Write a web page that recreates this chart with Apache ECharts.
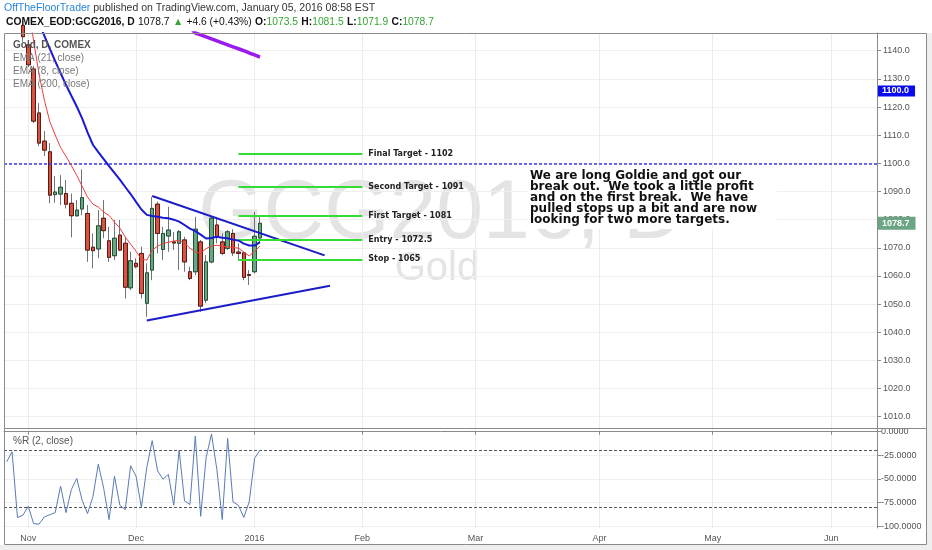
<!DOCTYPE html>
<html><head><meta charset="utf-8">
<script src="https://cdn.jsdelivr.net/npm/echarts@6/dist/echarts.min.js"></script>
<style>html,body{margin:0;padding:0;background:#fff}#c{width:932px;height:550px}</style>
</head><body><div id="c"></div>
<script>
// ---------- categories (trading days, then TradingView's projected weekdays) ----------
const dates = [
'2015-10-27','2015-10-28','2015-10-29','2015-10-30',
'2015-11-02','2015-11-03','2015-11-04','2015-11-05','2015-11-06',
'2015-11-09','2015-11-10','2015-11-11','2015-11-12','2015-11-13',
'2015-11-16','2015-11-17','2015-11-18','2015-11-19','2015-11-20',
'2015-11-23','2015-11-24','2015-11-25','2015-11-27','2015-11-30',
'2015-12-01','2015-12-02','2015-12-03','2015-12-04',
'2015-12-07','2015-12-08','2015-12-09','2015-12-10','2015-12-11',
'2015-12-14','2015-12-15','2015-12-16','2015-12-17','2015-12-18',
'2015-12-21','2015-12-22','2015-12-23','2015-12-24',
'2015-12-28','2015-12-29','2015-12-30','2015-12-31',
'2016-01-04','2016-01-05',
'2016-01-06','2016-01-07','2016-01-08',
'2016-01-11','2016-01-12','2016-01-13','2016-01-14','2016-01-15',
'2016-01-18','2016-01-19','2016-01-20','2016-01-21','2016-01-22',
'2016-01-25','2016-01-26','2016-01-27','2016-01-28','2016-01-29',
'2016-02-01','2016-02-02','2016-02-03','2016-02-04','2016-02-05',
'2016-02-08','2016-02-09','2016-02-10','2016-02-11','2016-02-12',
'2016-02-15','2016-02-16','2016-02-17','2016-02-18','2016-02-19',
'2016-02-22','2016-02-23','2016-02-24','2016-02-25','2016-02-26','2016-02-29',
'2016-03-01','2016-03-02','2016-03-03','2016-03-04',
'2016-03-07','2016-03-08','2016-03-09','2016-03-10','2016-03-11',
'2016-03-14','2016-03-15','2016-03-16','2016-03-17','2016-03-18',
'2016-03-21','2016-03-22','2016-03-23','2016-03-24','2016-03-25',
'2016-03-28','2016-03-29','2016-03-30','2016-03-31',
'2016-04-01',
'2016-04-04','2016-04-05','2016-04-06','2016-04-07','2016-04-08',
'2016-04-11','2016-04-12','2016-04-13','2016-04-14','2016-04-15',
'2016-04-18','2016-04-19','2016-04-20','2016-04-21','2016-04-22',
'2016-04-25','2016-04-26','2016-04-27','2016-04-28','2016-04-29',
'2016-05-02','2016-05-03','2016-05-04','2016-05-05','2016-05-06',
'2016-05-09','2016-05-10','2016-05-11','2016-05-12','2016-05-13',
'2016-05-16','2016-05-17','2016-05-18','2016-05-19','2016-05-20',
'2016-05-23','2016-05-24','2016-05-25','2016-05-26','2016-05-27',
'2016-05-30','2016-05-31',
'2016-06-01','2016-06-02','2016-06-03',
'2016-06-06','2016-06-07','2016-06-08','2016-06-09','2016-06-10','2016-06-13'
];

// ---------- price bars (first 48 categories) ----------
const opens  = [1164.0,1166.5,1157.0,1149.0,1142.1,1133.5,1117.9,1107.9,1104.1,1088.9,1089.1,1089.3,1085.8,1081.4,1083.8,1082.2,1070.2,1069.6,1080.5,1072.5,1067.2,1074.5,1071.6,1055.8,1064.5,1068.0,1050.3,1062.1,1085.5,1069.4,1074.2,1072.1,1071.6,1072.8,1061.5,1061.5,1072.1,1051.4,1065.0,1078.1,1072.1,1069.8,1075.1,1068.5,1068.2,1060.5,1061.5,1073.5];
const highs  = [1169.0,1180.0,1158.5,1150.5,1143.8,1134.6,1121.4,1111.5,1107.2,1095.5,1095.8,1094.1,1089.3,1087.0,1097.9,1085.2,1075.1,1083.4,1087.0,1077.5,1079.9,1079.9,1073.9,1068.6,1066.3,1070.4,1064.5,1088.1,1086.4,1077.5,1084.6,1075.6,1076.3,1073.9,1063.3,1081.0,1072.8,1067.4,1081.0,1081.0,1075.1,1076.3,1076.6,1071.6,1068.6,1062.1,1082.8,1081.5];
const lows   = [1160.0,1160.5,1147.2,1143.2,1134.2,1114.3,1106.1,1102.6,1085.8,1086.0,1085.2,1084.0,1073.7,1081.0,1081.6,1065.0,1062.7,1066.3,1073.4,1065.0,1065.6,1068.8,1052.0,1055.0,1062.7,1052.0,1045.5,1058.5,1068.0,1065.6,1068.6,1069.2,1062.1,1061.5,1058.5,1060.3,1047.3,1050.3,1064.5,1071.6,1067.4,1069.2,1067.1,1065.6,1058.5,1056.8,1060.9,1071.9];
const closes = [1166.5,1175.0,1149.0,1145.0,1135.0,1115.0,1107.2,1104.7,1088.7,1089.8,1091.5,1085.5,1081.4,1083.4,1087.8,1069.2,1069.0,1077.8,1076.1,1066.6,1073.4,1069.2,1056.0,1065.4,1063.3,1053.8,1061.1,1084.0,1075.1,1075.1,1076.3,1071.7,1075.7,1065.0,1059.1,1076.6,1049.3,1065.0,1080.5,1073.9,1068.0,1075.7,1068.2,1068.0,1059.5,1060.2,1074.1,1078.7];

// ---------- indicators ----------
const ema21  = [1180.0,1176.5,1171.0,1165.5,1158.8,1154.4,1149.8,1145.3,1140.7,1136.3,1132.1,1127.9,1124.0,1120.2,1116.0,1111.0,1106.6,1104.0,1101.5,1099.0,1096.6,1094.2,1091.6,1089.1,1086.3,1083.6,1081.7,1081.3,1081.0,1080.7,1080.5,1080.0,1079.3,1078.1,1076.8,1075.9,1074.7,1073.3,1073.5,1073.9,1073.6,1073.4,1072.9,1072.6,1071.5,1070.8,1070.8,1072.0];
const ema8   = [1170.0,1172.0,1168.0,1163.0,1156.0,1143.4,1131.7,1122.4,1114.8,1110.1,1105.6,1102.5,1099.2,1095.7,1091.9,1088.0,1085.5,1084.5,1082.7,1081.5,1079.1,1077.0,1073.8,1071.3,1068.8,1066.0,1065.6,1069.2,1070.6,1071.5,1072.0,1072.4,1072.6,1071.7,1069.9,1068.5,1068.1,1069.7,1070.6,1070.9,1070.6,1070.3,1070.1,1069.9,1068.5,1067.1,1068.8,1070.6];
const ema200 = [1171.1,1171.0,1170.6,1170.1,1169.5,1168.8,1168.1,1167.4,1166.7,1166.0,1165.3,1164.6,1163.9,1163.2,1162.5,1161.8,1161.1,1160.4,1159.7,1159.0,1158.3,1157.6,1156.9,1156.2,1155.5,1154.8,1154.1,1153.3,1152.6,1151.9,1151.2,1150.5,1149.8,1149.1,1148.4,1146.3,1145.6,1144.9,1144.2,1143.5,1142.8,1142.1,1141.4,1140.7,1140.0,1139.2,1138.5,1137.7];
const willR  = [-31.9,-21.3,-91.0,-88.6,-79.0,-97.5,-98.0,-90.4,-88.0,-85.8,-57.8,-85.8,-61.3,-49.6,-72.7,-86.8,-69.0,-34.4,-60.2,-93.2,-47.1,-78.0,-82.6,-36.1,-47.1,-80.5,-37.9,-9.5,-41.5,-50.3,-45.3,-78.0,-19.5,-73.4,-77.2,-4.6,-89.7,-27.6,-2.5,-40.0,-93.2,-7.1,-74.5,-78.0,-91.0,-74.5,-28.3,-19.5];

// ---------- axes ----------
const priceTicks = [1010,1020,1030,1040,1050,1060,1070,1080,1090,1100,1110,1120,1130,1140];
const willTicks = [0,-25,-50,-75,-100];
const willBands = [-20,-80];
const monthTickDates = ['2015-11-02','2015-12-01','2016-01-04','2016-02-01','2016-03-01','2016-04-01','2016-05-02','2016-06-01'];
const monthTickLabels = ['Nov','Dec','2016','Feb','Mar','Apr','May','Jun'];

// ---------- drawings ----------
const hLevel = 1100;
const hLevelTagAt = 1125.7;
const lastPrice = 1078.7;
const targetNames = ['Final Target - 1102','Second Target - 1091','First Target - 1081','Entry - 1072.5','Stop - 1065'];
const targetLevels = [1103.3,1091.7,1081.3,1072.8,1065.9];
const targetFrom = '2015-12-29';
const targetTo = '2016-02-01';
const upperTrend = [['2015-12-04',1088.4],['2016-01-21',1067.3]];
const lowerTrend = [['2015-12-03',1044.2],['2016-01-22',1056.5]];
const noteLines = ['We are long Goldie and got our','break out.  We took a little profit','and on the first break.  We have','pulled stops up a bit and are now','looking for two more targets.'];

const FONT = '"Liberation Sans", Arial, sans-serif';
const nBars = closes.length;
const wickData = [], bodyData = [];
for (let i = 0; i < nBars; i++) {
  wickData.push([opens[i], closes[i], lows[i], highs[i]]);
  bodyData.push([opens[i], closes[i], Math.min(opens[i], closes[i]), Math.max(opens[i], closes[i])]);
}
const isMonth = (idx, val) => monthTickDates.indexOf(val) >= 0;
const monthName = (val) => { const k = monthTickDates.indexOf(val); return k >= 0 ? monthTickLabels[k] : ''; };

const targetLines = targetLevels.map((v, k) => [
  {name: targetNames[k], coord: [targetFrom, v], label: {show: true}},
  {coord: [targetTo, v]}
]);
const HIDDEN = 'rgba(0,0,0,0)';

const chart = echarts.init(document.getElementById('c'), null, {renderer: 'canvas'});
chart.setOption({
  animation: false,
  backgroundColor: '#ffffff',
  grid: [
    {left: 4, top: 33, width: 873, height: 395},
    {left: 4, top: 428, width: 873, height: 100}
  ],
  xAxis: [
    {type: 'category', gridIndex: 0, data: dates, boundaryGap: true,
     axisLine: {show: false}, axisTick: {show: false}, axisLabel: {show: false},
     splitLine: {show: true, interval: isMonth, alignWithLabel: true, lineStyle: {color: '#ececec', width: 1}}},
    {type: 'category', gridIndex: 1, data: dates, boundaryGap: true,
     axisLine: {show: true, lineStyle: {color: '#8a8a8a', width: 1}},
     axisTick: {show: true, interval: isMonth, alignWithLabel: true, length: 3, lineStyle: {color: '#8a8a8a'}},
     axisLabel: {show: true, interval: isMonth, formatter: monthName, color: '#555', fontSize: 9, fontFamily: FONT, margin: 6},
     splitLine: {show: true, interval: isMonth, alignWithLabel: true, lineStyle: {color: '#ececec', width: 1}}}
  ],
  yAxis: [
    {type: 'value', gridIndex: 0, position: 'right', min: 1006, max: 1146.3,
     axisLine: {show: true, lineStyle: {color: '#8a8a8a', width: 1}},
     axisTick: {show: true, customValues: priceTicks, length: 4, lineStyle: {color: '#8a8a8a'}},
     axisLabel: {customValues: priceTicks, formatter: v => v.toFixed(1), color: '#555', fontSize: 9, fontFamily: FONT, margin: 6},
     splitLine: {show: true, lineStyle: {color: '#efefef', width: 1}}},
    {type: 'value', gridIndex: 1, position: 'right', min: -102.1, max: 3.9,
     axisLine: {show: true, lineStyle: {color: '#8a8a8a', width: 1}},
     axisTick: {show: true, customValues: willTicks, length: 4, lineStyle: {color: '#8a8a8a'}},
     axisLabel: {customValues: willTicks, formatter: v => v.toFixed(4), color: '#555', fontSize: 9, fontFamily: FONT, margin: 4},
     splitLine: {show: true, lineStyle: {color: '#efefef', width: 1}}}
  ],
  series: [
    {name: 'wicks', type: 'candlestick', xAxisIndex: 0, yAxisIndex: 0, data: wickData, barWidth: 4, silent: true, z: 3,
     itemStyle: {color: HIDDEN, color0: HIDDEN, borderColor: '#737375', borderColor0: '#737375', borderWidth: 1}},
    {name: 'bodies', type: 'candlestick', xAxisIndex: 0, yAxisIndex: 0, data: bodyData, barWidth: 4, silent: true, z: 4,
     itemStyle: {color: '#6ba583', color0: '#d75442', borderColor: '#225437', borderColor0: '#5b1a13', borderWidth: 1}},
    {name: 'EMA 21', type: 'line', xAxisIndex: 0, yAxisIndex: 0, data: ema21, symbol: 'none', silent: true, z: 5,
     lineStyle: {color: '#1a1ad4', width: 2}},
    {name: 'EMA 8', type: 'line', xAxisIndex: 0, yAxisIndex: 0, data: ema8, symbol: 'none', silent: true, z: 5,
     lineStyle: {color: '#f03c3c', width: 1}},
    {name: 'EMA 200', type: 'line', xAxisIndex: 0, yAxisIndex: 0, data: ema200, symbol: 'none', silent: true, z: 5,
     lineStyle: {color: '#9a1af0', width: 3.5}},
    {name: 'drawings', type: 'line', xAxisIndex: 0, yAxisIndex: 0, data: [], silent: true, clip: false, z: 6,
     markLine: {
       silent: true, symbol: ['none', 'none'], animation: false,
       label: {show: false, position: 'end', distance: 6, formatter: p => p.name, color: '#222',
               fontFamily: '"DejaVu Sans", Verdana, sans-serif', fontWeight: 'bold', fontSize: 8},
       lineStyle: {color: '#33dd33', width: 2, type: 'solid'},
       emphasis: {disabled: true},
       data: [
         {yAxis: hLevel, lineStyle: {color: '#3a3af0', width: 1.5, type: [3, 2]}},
         [{coord: upperTrend[0], lineStyle: {color: '#1c1cc8', width: 2}}, {coord: upperTrend[1]}],
         [{coord: lowerTrend[0], lineStyle: {color: '#1c1cc8', width: 2}}, {coord: lowerTrend[1]}],
         ...targetLines,
         {yAxis: hLevelTagAt, lineStyle: {color: HIDDEN, width: 1},
          label: {show: true, position: 'end', distance: 1, formatter: hLevel.toFixed(1), color: '#fff', backgroundColor: '#0a0af0',
                  fontFamily: FONT, fontWeight: 'bold', fontSize: 9, padding: [1, 6, 1, 4]}},
         {yAxis: lastPrice, lineStyle: {color: HIDDEN, width: 1},
          label: {show: true, position: 'end', distance: 1, formatter: lastPrice.toFixed(1), color: '#fff', backgroundColor: '#6ba583',
                  fontFamily: FONT, fontWeight: 'bold', fontSize: 9, padding: [2, 6, 2, 4]}}
       ]
     }},
    {name: '%R', type: 'line', xAxisIndex: 1, yAxisIndex: 1, data: willR, symbol: 'none', silent: true, z: 5,
     lineStyle: {color: '#5a7bb5', width: 1},
     markLine: {silent: true, symbol: ['none', 'none'], animation: false, label: {show: false},
       lineStyle: {color: '#555', width: 1, type: [3, 2]},
       data: willBands.map(v => ({yAxis: v}))}}
  ],
  graphic: [
    {type: 'text', x: 441, y: 215, z: -10, silent: true,
     style: {text: 'GCG2016, D', fill: '#e4e4e4', fontSize: 84, fontFamily: FONT, align: 'center', verticalAlign: 'middle'}},
    {type: 'text', x: 437, y: 269, z: -10, silent: true,
     style: {text: 'Gold', fill: '#e4e4e4', fontSize: 40, fontFamily: FONT, align: 'center', verticalAlign: 'middle'}},
    {type: 'rect', z: 49, silent: true, shape: {x: 527, y: 168, width: 250, height: 61}, style: {fill: '#ffffff'}},
    {type: 'text', x: 530, y: 170.5, z: 50, silent: true,
     style: {text: noteLines.join('\n'), fill: '#111', fontSize: 12, fontWeight: 'bold', fontFamily: '"DejaVu Sans", Verdana, sans-serif', lineHeight: 10.9, verticalAlign: 'top'}},
    {type: 'rect', z: 90, silent: true, shape: {x: 0, y: 545, width: 932, height: 5}, style: {fill: '#efefef'}},
    {type: 'rect', z: 90, silent: true, shape: {x: 927, y: 33, width: 5, height: 517}, style: {fill: '#efefef'}},
    {type: 'rect', z: 100, silent: true, shape: {x: 4.5, y: 33.5, width: 922, height: 511}, style: {fill: 'none', stroke: '#8a8a8a', lineWidth: 1}},
    {type: 'line', z: 100, silent: true, shape: {x1: 4.5, y1: 428.5, x2: 926.5, y2: 428.5}, style: {stroke: '#8a8a8a', lineWidth: 1}},
    {type: 'text', x: 4, y: 8, z: 100, silent: true,
     style: {text: '{u|OffTheFloorTrader}{t| published on TradingView.com, January 05, 2016 08:58 EST}', verticalAlign: 'middle',
       rich: {u: {fill: '#2a86d8', fontSize: 10.5, fontFamily: FONT}, t: {fill: '#333', fontSize: 10.5, fontFamily: FONT}}}},
    {type: 'text', x: 6, y: 22.5, z: 100, silent: true,
     style: {text: '{b|COMEX_EOD:GCG2016, D} {n|1078.7} {g|▲} {n|+4.6 (+0.43%)} {b|O:}{g|1073.5} {b|H:}{g|1081.5} {b|L:}{g|1071.9} {b|C:}{g|1078.7}', verticalAlign: 'middle',
       rich: {b: {fill: '#111', fontSize: 10.3, fontWeight: 'bold', fontFamily: FONT},
              n: {fill: '#111', fontSize: 10.3, fontFamily: FONT},
              g: {fill: '#35a535', fontSize: 10.3, fontFamily: FONT}}}},
    {type: 'text', x: 13, y: 45, z: 100, silent: true,
     style: {text: 'Gold, D, COMEX', fill: '#555', fontSize: 10, fontWeight: 'bold', fontFamily: FONT, verticalAlign: 'middle'}},
    {type: 'text', x: 13, y: 58, z: 100, silent: true,
     style: {text: 'EMA (21, close)', fill: '#777', fontSize: 10, fontFamily: FONT, verticalAlign: 'middle'}},
    {type: 'text', x: 13, y: 71, z: 100, silent: true,
     style: {text: 'EMA (8, close)', fill: '#777', fontSize: 10, fontFamily: FONT, verticalAlign: 'middle'}},
    {type: 'text', x: 13, y: 84, z: 100, silent: true,
     style: {text: 'EMA (200, close)', fill: '#777', fontSize: 10, fontFamily: FONT, verticalAlign: 'middle'}},
    {type: 'text', x: 13, y: 441, z: 100, silent: true,
     style: {text: '%R (2, close)', fill: '#555', fontSize: 10, fontFamily: FONT, verticalAlign: 'middle'}}
  ]
});
</script>
</body></html>
